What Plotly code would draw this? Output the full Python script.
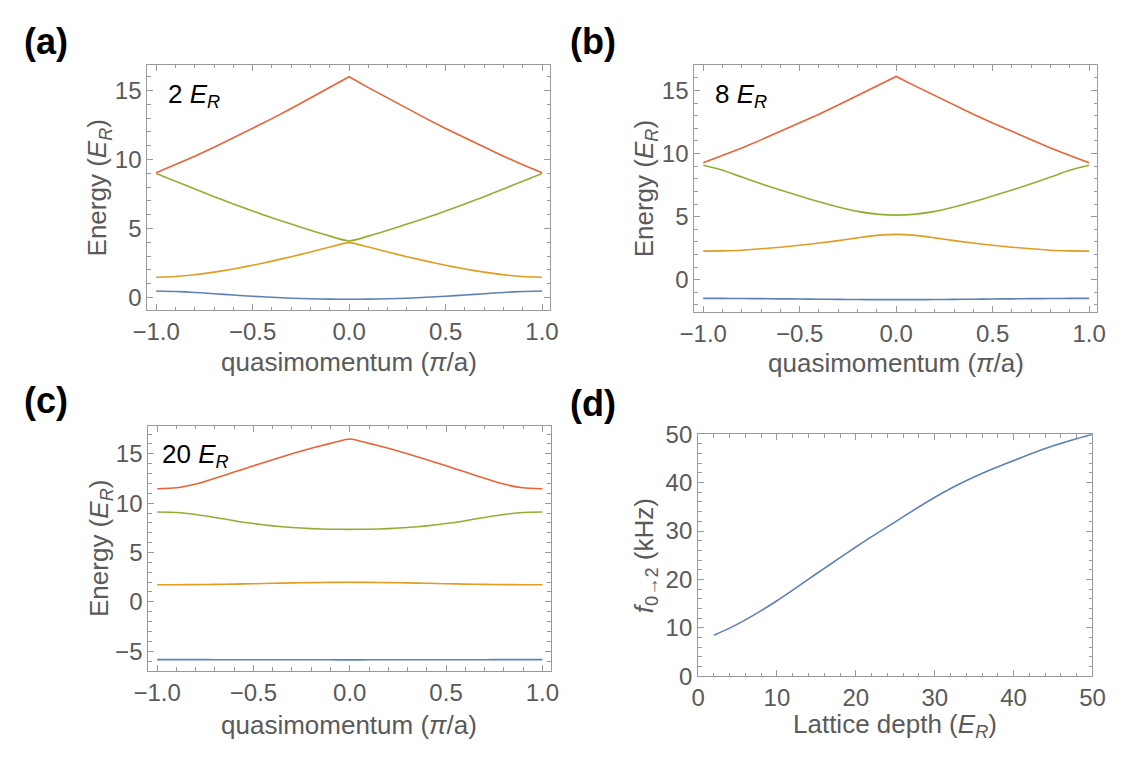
import plotly.graph_objects as go

# ---------------- data ----------------
q = [-1.0, -0.9, -0.8, -0.7, -0.6, -0.5, -0.4, -0.3, -0.2, -0.1, 0.0,
     0.1, 0.2, 0.3, 0.4, 0.5, 0.6, 0.7, 0.8, 0.9, 1.0]

# (a) 2 E_R
band1_a = [0.47, 0.44, 0.37, 0.275, 0.18, 0.09, 0.016, -0.047, -0.088, -0.115, -0.125,
           -0.115, -0.088, -0.047, 0.016, 0.09, 0.18, 0.275, 0.37, 0.44, 0.47]
band2_a = [1.47, 1.52, 1.65, 1.84, 2.07, 2.34, 2.64, 2.96, 3.30, 3.66, 3.98,
           3.66, 3.30, 2.96, 2.64, 2.34, 2.07, 1.84, 1.65, 1.52, 1.47]
band3_a = [8.98, 8.43, 7.86, 7.31, 6.78, 6.27, 5.78, 5.32, 4.87, 4.45, 4.10,
           4.45, 4.87, 5.32, 5.78, 6.27, 6.78, 7.31, 7.86, 8.43, 8.98]
band4_a = [9.04, 9.62, 10.24, 10.89, 11.56, 12.25, 12.96, 13.69, 14.44, 15.21, 16.0,
           15.21, 14.44, 13.69, 12.96, 12.25, 11.56, 10.89, 10.24, 9.62, 9.04]

# (b) 8 E_R
band1_b = [-1.48, -1.482, -1.49, -1.501, -1.515, -1.53, -1.545, -1.559, -1.57, -1.578, -1.58,
           -1.578, -1.57, -1.559, -1.545, -1.53, -1.515, -1.501, -1.49, -1.482, -1.48]
band2_b = [2.27, 2.29, 2.34, 2.45, 2.58, 2.73, 2.91, 3.10, 3.32, 3.52, 3.60,
           3.52, 3.32, 3.10, 2.91, 2.73, 2.58, 2.45, 2.34, 2.29, 2.27]
band3_b = [9.07, 8.68, 8.14, 7.61, 7.11, 6.63, 6.18, 5.77, 5.42, 5.20, 5.12,
           5.20, 5.42, 5.77, 6.18, 6.63, 7.11, 7.61, 8.14, 8.68, 9.07]
band4_b = [9.27, 9.85, 10.45, 11.09, 11.75, 12.43, 13.12, 13.85, 14.59, 15.35, 16.12,
           15.35, 14.59, 13.85, 13.12, 12.43, 11.75, 11.09, 10.45, 9.85, 9.27]

# (c) 20 E_R
band1_c = [-5.85, -5.851, -5.853, -5.856, -5.859, -5.862, -5.865, -5.868, -5.87, -5.871, -5.872,
           -5.871, -5.87, -5.868, -5.865, -5.862, -5.859, -5.856, -5.853, -5.851, -5.85]
band2_c = [1.73, 1.74, 1.75, 1.77, 1.80, 1.84, 1.88, 1.92, 1.95, 1.97, 1.98,
           1.97, 1.95, 1.92, 1.88, 1.84, 1.80, 1.77, 1.75, 1.74, 1.73]
band3_c = [9.10, 9.05, 8.85, 8.55, 8.22, 7.93, 7.70, 7.53, 7.42, 7.36, 7.34,
           7.36, 7.42, 7.53, 7.70, 7.93, 8.22, 8.55, 8.85, 9.05, 9.10]
band4_c = [11.45, 11.55, 11.93, 12.52, 13.15, 13.78, 14.40, 15.00, 15.55, 16.05, 16.50,
           16.05, 15.55, 15.00, 14.40, 13.78, 13.15, 12.52, 11.93, 11.55, 11.45]

# (d) transition frequency vs lattice depth
depth = [2, 4, 6, 8, 10, 12, 14, 16, 18, 20, 22, 25, 29, 33, 37, 41, 45, 50]
freq = [8.47, 9.95, 11.65, 13.55, 15.6, 17.8, 20.05, 22.3, 24.5, 26.7, 28.85,
        31.9, 36.0, 39.6, 42.6, 45.2, 47.6, 50.0]

panel_labels = ["(a)", "(b)", "(c)", "(d)"]
depth_labels = ["2", "8", "20"]

# ---------------- style ----------------
COLORS = ["#5E81B5", "#E19C24", "#8FB032", "#EB6235"]
FONT = "Liberation Sans, Arial, Helvetica, sans-serif"
FRAME = "#9a9a9a"
TICKTXT = "#5a5a5a"
W, H = 1125, 759

fig = go.Figure()

band_sets = [
    (band1_a, band2_a, band3_a, band4_a),
    (band1_b, band2_b, band3_b, band4_b),
    (band1_c, band2_c, band3_c, band4_c),
]
axis_ids = ["", "2", "3"]
for pi, (bands, aid) in enumerate(zip(band_sets, axis_ids)):
    for bi, (b, col) in enumerate(zip(bands, COLORS)):
        sharp = (bi == 3 and pi < 2)
        line = dict(color=col, width=1.6)
        if sharp:
            line["shape"] = "linear"
        else:
            line["shape"] = "spline"
            line["smoothing"] = 0.6
        fig.add_trace(go.Scatter(
            x=q, y=b, mode="lines", xaxis="x" + aid, yaxis="y" + aid,
            line=line, showlegend=False, hoverinfo="skip"))

fig.add_trace(go.Scatter(
    x=depth, y=freq, mode="lines", xaxis="x4", yaxis="y4",
    line=dict(color=COLORS[0], width=1.6, shape="spline", smoothing=0.8),
    showlegend=False, hoverinfo="skip"))

# frame boxes in pixels: (left, right, top, bottom)
boxes = [
    (135.7, 549.0, 52.7, 307.3),
    (696.7, 1110.0, 52.7, 309.0),
    (136.7, 549.3, 426.7, 681.0),
    (700.5, 1105.0, 435.7, 686.7),
]


def dom(box):
    l, r, t, b = box
    return [l / W, r / W], [1 - b / H, 1 - t / H]


def axis_style(dom_, anchor, rng, dtick, minor_dtick, fmt=None):
    d = dict(
        domain=dom_, anchor=anchor, range=rng,
        showline=True, linecolor=FRAME, linewidth=1, mirror="allticks",
        ticks="inside", ticklen=6, tickwidth=1, tickcolor=FRAME,
        minor=dict(ticks="inside", ticklen=3.5, tickwidth=1, tickcolor=FRAME,
                   dtick=minor_dtick, showgrid=False),
        dtick=dtick, tick0=0,
        showgrid=False, zeroline=False,
        tickfont=dict(family=FONT, size=24, color=TICKTXT),
        fixedrange=True,
    )
    if fmt:
        d["tickformat"] = fmt
    return d


yranges = [[-0.93, 16.86], [-2.56, 17.04], [-6.98, 17.86]]
layout = {}
for i in range(3):
    xd, yd = dom(boxes[i])
    sx = "" if i == 0 else str(i + 1)
    layout["xaxis" + sx] = axis_style(xd, "y" + sx, [-1.046, 1.043], 0.5, 0.1, ".1f")
    layout["yaxis" + sx] = axis_style(yd, "x" + sx, yranges[i], 5, 1)
xd, yd = dom(boxes[3])
layout["xaxis4"] = axis_style(xd, "y4", [0, 50], 10, 2)
layout["yaxis4"] = axis_style(yd, "x4", [0, 50], 10, 2)

annotations = []
# panel letters
letter_pos = [(7, 29), (567, 29), (7, 401), (567, 404)]
for lab, (px, py) in zip(panel_labels, letter_pos):
    annotations.append(dict(
        text="<b>" + lab + "</b>", x=px / W, y=1 - py / H, xref="paper", yref="paper",
        xanchor="left", yanchor="middle", showarrow=False,
        font=dict(family=FONT, size=36, color="black")))

# inset depth labels
inset_pos = [(155, 85), (716, 85), (149, 458)]
for lab, (px, py) in zip(depth_labels, inset_pos):
    annotations.append(dict(
        text=lab + " <i>E</i><sub><i>R</i></sub>", x=px / W, y=1 - py / H,
        xref="paper", yref="paper", xanchor="left", yanchor="middle", showarrow=False,
        font=dict(family=FONT, size=26, color="black")))

# axis titles
xt = [("quasimomentum (<i>π</i>/a)", 0), ("quasimomentum (<i>π</i>/a)", 1),
      ("quasimomentum (<i>π</i>/a)", 2), ("Lattice depth (<i>E</i><sub><i>R</i></sub>)", 3)]
xt_y = [361, 362, 737, 738]
for (txt, i), yy in zip(xt, xt_y):
    l, r, t, b = boxes[i]
    annotations.append(dict(
        text=txt, x=(l + r) / 2 / W, y=1 - yy / H, xref="paper", yref="paper",
        xanchor="center", yanchor="middle", showarrow=False,
        font=dict(family=FONT, size=26, color=TICKTXT)))

yt = ["Energy (<i>E</i><sub><i>R</i></sub>)"] * 3 + ["<i>f</i><sub>0→2</sub> (kHz)"]
yt_x = [86, 646, 87, 646]
for i, (txt, xx) in enumerate(zip(yt, yt_x)):
    l, r, t, b = boxes[i]
    annotations.append(dict(
        text=txt, x=xx / W, y=1 - (t + b) / 2 / H, xref="paper", yref="paper",
        xanchor="center", yanchor="middle", textangle=-90, showarrow=False,
        font=dict(family=FONT, size=26, color=TICKTXT)))

fig.update_layout(
    width=W, height=H, margin=dict(l=0, r=0, t=0, b=0),
    paper_bgcolor="white", plot_bgcolor="white",
    annotations=annotations, **layout)

fig.write_html("out.html", config={"displayModeBar": False})
